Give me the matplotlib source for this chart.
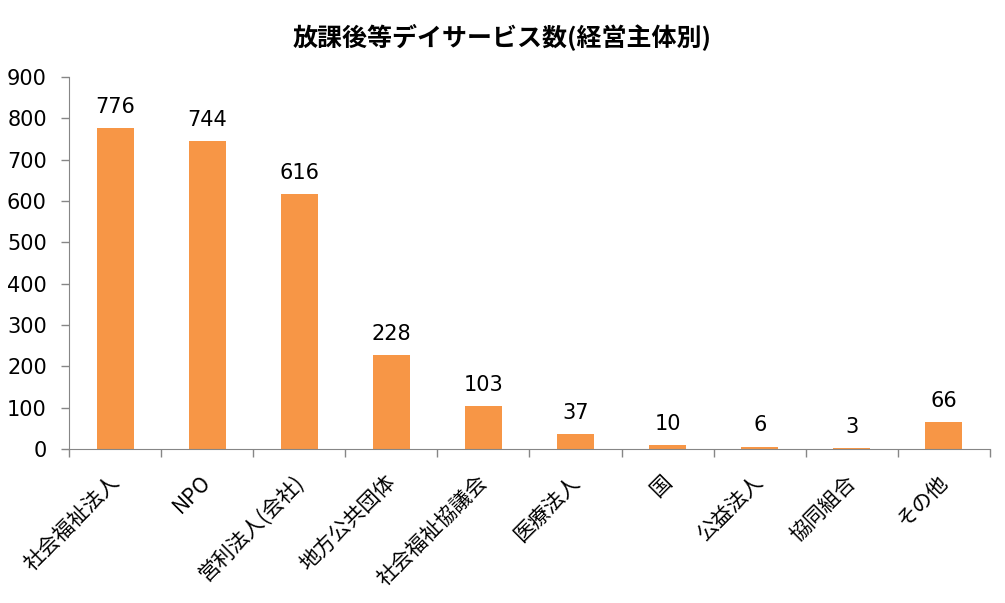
import matplotlib
matplotlib.use("Agg")
import matplotlib.pyplot as plt
import numpy as np

plt.rcParams['font.family'] = ['DejaVu Sans', 'Noto Sans CJK JP']

categories = ["社会福祉法人", "NPO", "営利法人(会社)", "地方公共団体", "社会福祉協議会",
              "医療法人", "国", "公益法人", "協同組合", "その他"]
counts = [776, 744, 616, 228, 103, 37, 10, 6, 3, 66]
title = "放課後等デイサービス数(経営主体別)"

bar_color = "#F79646"
axis_color = "#868686"

fig = plt.figure(figsize=(10.05, 6.03), dpi=100)
ax = fig.add_axes([0.0687, 0.2554, 0.9163, 0.6169])

x = np.arange(len(categories))
ax.bar(x, counts, width=0.4, color=bar_color, zorder=2)

for xi, v in zip(x, counts):
    ax.annotate(str(v), (xi, v), xytext=(0, 8), textcoords="offset points",
                ha="center", va="bottom", fontsize=15)

ax.set_xlim(-0.5, len(categories) - 0.5)
ax.set_ylim(0, 900)
ax.set_yticks(np.arange(0, 901, 100))
ax.tick_params(axis="y", labelsize=15, length=6, color=axis_color, width=1, pad=10)

# category boundaries carry the tick marks, labels sit at the centres
ax.set_xticks(np.arange(-0.5, len(categories)), minor=False)
ax.set_xticklabels([])
ax.tick_params(axis="x", length=6, color=axis_color, width=1)
for xi, lab in zip(x, categories):
    ax.annotate(lab, (xi, 0), xytext=(-5, -16), textcoords="offset points",
                rotation=45, ha="right", va="top", rotation_mode="anchor",
                fontsize=15, family=['Noto Sans CJK JP', 'DejaVu Sans'])

for s in ["top", "right"]:
    ax.spines[s].set_visible(False)
for s in ["left", "bottom"]:
    ax.spines[s].set_color(axis_color)

fig.text(0.5, 0.94, title, ha="center", va="center", fontsize=18,
         fontweight="bold", family=['Noto Sans CJK JP', 'DejaVu Sans'])

fig.savefig("out.png", dpi=100)
